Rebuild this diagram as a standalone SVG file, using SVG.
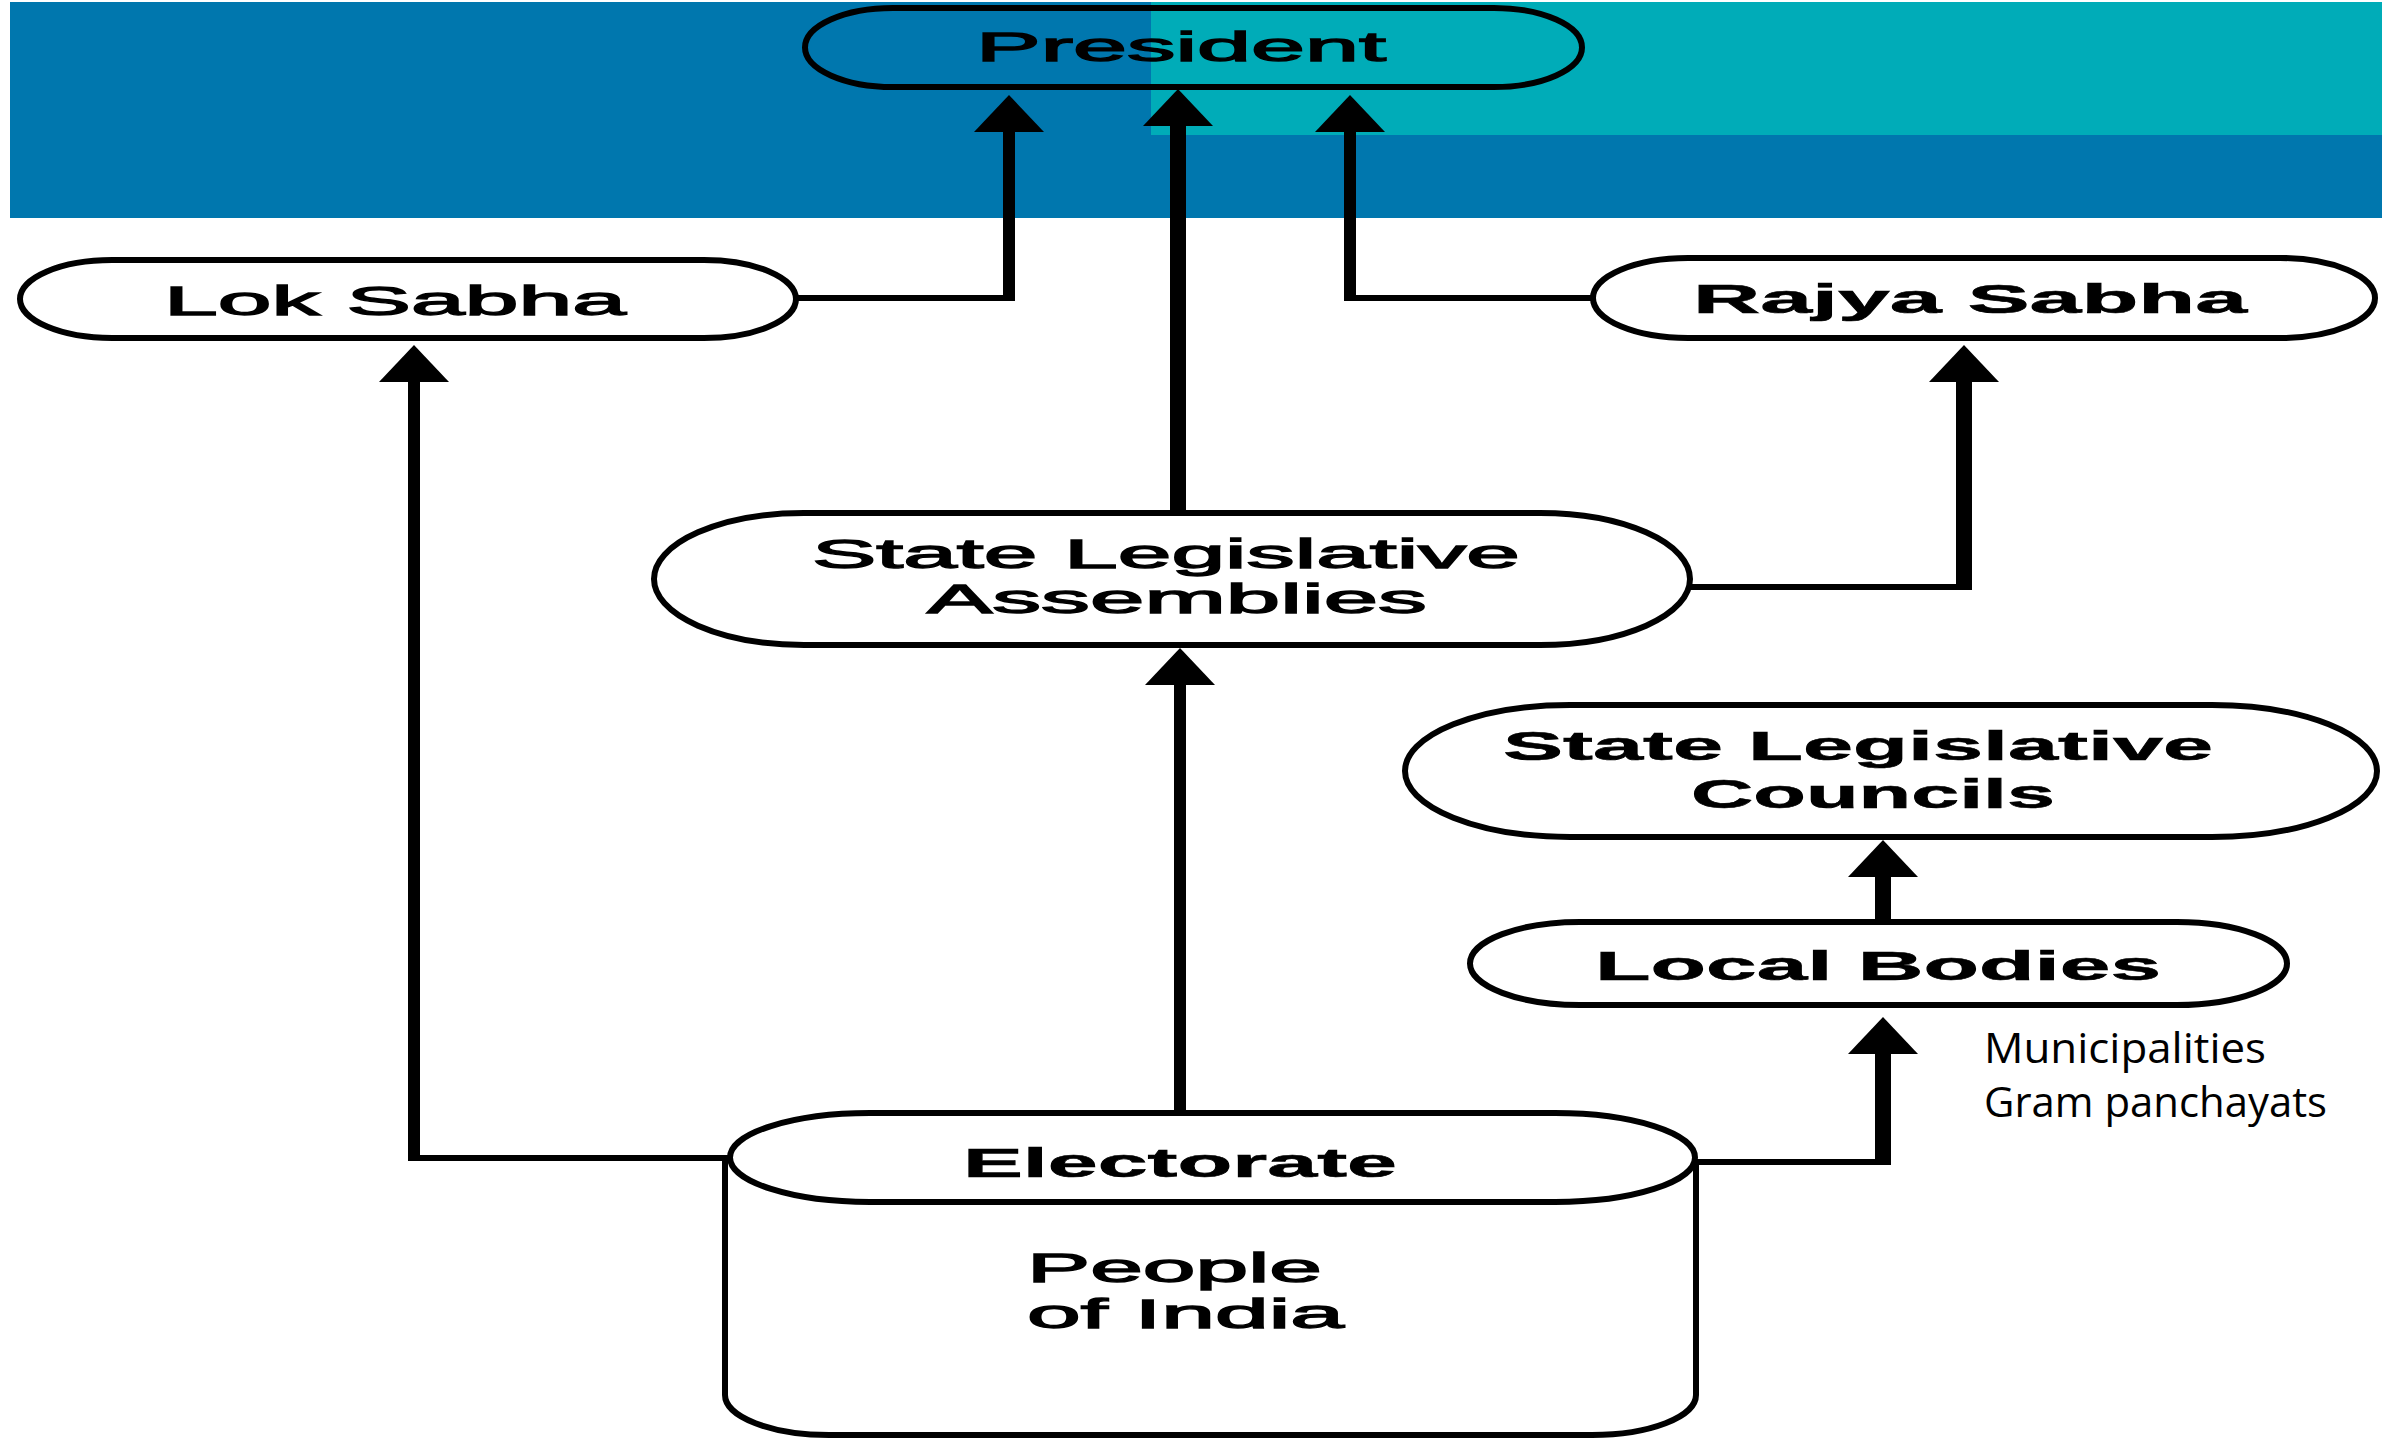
<svg xmlns="http://www.w3.org/2000/svg" xmlns:xlink="http://www.w3.org/1999/xlink" width="2382" height="1440" viewBox="0 0 2382 1440">
<style>
  .node { fill: #ffffff; stroke: #000000; stroke-width: 6; }
  .nofill { fill: none; stroke: #000000; stroke-width: 6; }
  .lbl { font-family: "Liberation Sans", Arial, sans-serif; font-size: 41px; fill: #000000; stroke: #000000; stroke-width: 1.3; text-anchor: middle; }
  .b { font-weight: bold; stroke-width: 0.6; }
  .note { font-family: "Open Sans", "Liberation Sans", sans-serif; font-size: 42px; fill: #000000; }
  .h { stroke: #000000; stroke-width: 6; fill: none; }
  .v { stroke: #000000; stroke-width: 12; fill: none; }
  .vt { stroke: #000000; stroke-width: 16; fill: none; }
</style>
<defs>
  <polygon id="ah" points="0,0 -35,37 35,37" fill="#000000"/>
</defs>
<rect x="0" y="0" width="2382" height="1440" fill="#ffffff"/>
<g id="banner">
  <rect x="10" y="2" width="2372" height="216" fill="#0077AE"/>
  <rect x="1151" y="2" width="1231" height="133" fill="#00ACB8"/>
</g>
<g id="connectors">
  <!-- Lok Sabha -> President -->
  <path class="h" d="M796 298 H1015"/>
  <path class="v" d="M1009 301 V128"/>
  <use xlink:href="#ah" x="1009" y="95"/>
  <!-- SLA -> President -->
  <path class="vt" d="M1178 513 V118"/>
  <use xlink:href="#ah" x="1178" y="89"/>
  <!-- Rajya Sabha -> President -->
  <path class="h" d="M1593 298 H1344"/>
  <path class="v" d="M1350 301 V128"/>
  <use xlink:href="#ah" x="1350" y="95"/>
  <!-- Electorate -> Lok Sabha -->
  <path class="h" d="M730 1158 H408"/>
  <path class="v" d="M414 1161 V375"/>
  <use xlink:href="#ah" x="414" y="345"/>
  <!-- Electorate -> SLA -->
  <path class="v" d="M1180 1113 V682"/>
  <use xlink:href="#ah" x="1180" y="648"/>
  <!-- SLA -> Rajya Sabha -->
  <path class="h" d="M1690 587 H1972"/>
  <path class="vt" d="M1964 590 V375"/>
  <use xlink:href="#ah" x="1964" y="345"/>
  <!-- Local Bodies -> SLC -->
  <path class="vt" d="M1883 922 V867"/>
  <use xlink:href="#ah" x="1883" y="840"/>
  <!-- Electorate -> Local Bodies -->
  <path class="h" d="M1695 1162 H1891"/>
  <path class="vt" d="M1883 1165 V1048"/>
  <use xlink:href="#ah" x="1883" y="1017"/>
</g>
<g id="president">
  <rect class="nofill" x="805" y="8" width="777" height="79" rx="88" ry="39.5"/>
  <text class="lbl" x="1181" y="61" textLength="410" lengthAdjust="spacingAndGlyphs">President</text>
</g>
<g id="lok-sabha">
  <rect class="node" x="20" y="260" width="776" height="78" rx="92" ry="39"/>
  <text class="lbl" x="395" y="315" textLength="462" lengthAdjust="spacingAndGlyphs">Lok Sabha</text>
</g>
<g id="rajya-sabha">
  <rect class="node" x="1593" y="258" width="782" height="80" rx="95" ry="40"/>
  <text class="lbl b" x="1970" y="313" font-size="42" textLength="554" lengthAdjust="spacingAndGlyphs">Rajya Sabha</text>
</g>
<g id="state-legislative-assemblies">
  <rect class="node" x="654" y="513" width="1036" height="132" rx="150" ry="66"/>
  <text class="lbl" x="1166" y="568" textLength="708" lengthAdjust="spacingAndGlyphs">State Legislative</text>
  <text class="lbl" x="1177" y="613" textLength="500" lengthAdjust="spacingAndGlyphs">Assemblies</text>
</g>
<g id="state-legislative-councils">
  <rect class="node" x="1405" y="705" width="972" height="132" rx="165" ry="66"/>
  <text class="lbl b" x="1858" y="760" font-size="44" textLength="710" lengthAdjust="spacingAndGlyphs">State Legislative</text>
  <text class="lbl b" x="1873" y="808" font-size="44" textLength="364" lengthAdjust="spacingAndGlyphs">Councils</text>
</g>
<g id="local-bodies">
  <rect class="node" x="1470" y="922" width="817" height="83" rx="110" ry="41.5"/>
  <text class="lbl b" x="1878" y="980" font-size="42" textLength="566" lengthAdjust="spacingAndGlyphs">Local Bodies</text>
</g>
<g id="local-bodies-note">
  <text class="note" x="1984" y="1063" textLength="282" lengthAdjust="spacingAndGlyphs">Municipalities</text>
  <text class="note" x="1984" y="1117" textLength="343" lengthAdjust="spacingAndGlyphs">Gram panchayats</text>
</g>
<g id="electorate">
  <path class="node" d="M725 1160 V1395 A104 40 0 0 0 829 1435 H1592 A104 40 0 0 0 1696 1395 V1160"/>
  <rect class="node" x="730" y="1113" width="965" height="89" rx="140" ry="44.5"/>
  <text class="lbl b" x="1180" y="1177" font-size="42" textLength="434" lengthAdjust="spacingAndGlyphs">Electorate</text>
  <text class="lbl" x="1027" y="1282" style="text-anchor:start" textLength="295" lengthAdjust="spacingAndGlyphs">People</text>
  <text class="lbl" x="1027" y="1328" style="text-anchor:start" textLength="317" lengthAdjust="spacingAndGlyphs">of India</text>
</g>
</svg>
